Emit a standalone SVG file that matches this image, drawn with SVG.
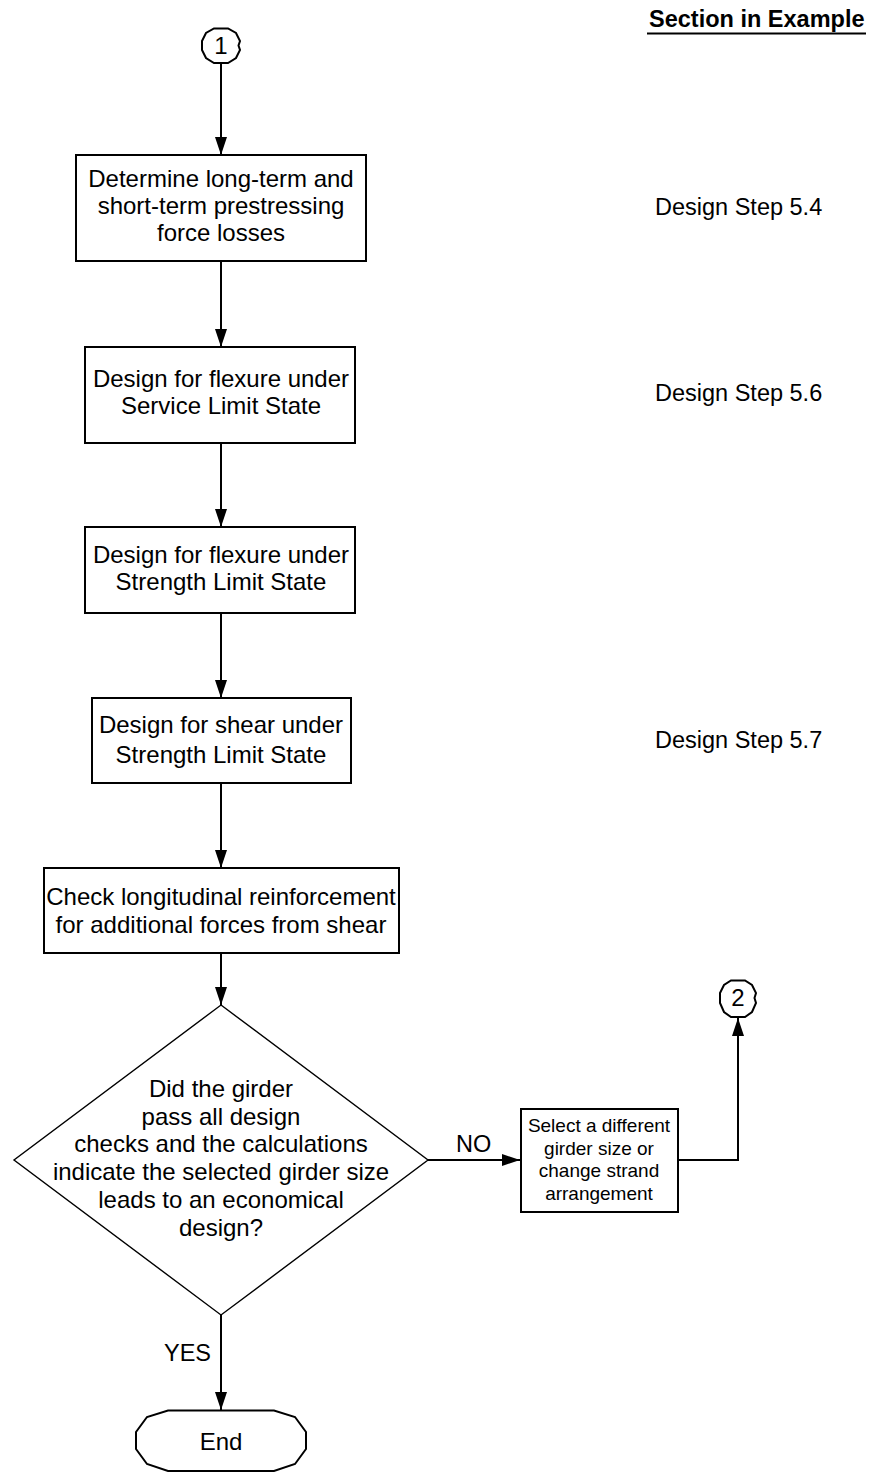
<svg xmlns="http://www.w3.org/2000/svg" width="869" height="1473" viewBox="0 0 869 1473">
<defs>
<marker id="arr" markerUnits="userSpaceOnUse" markerWidth="18" markerHeight="12" refX="18" refY="6" orient="auto">
<path d="M0,0 L18,6 L0,12 Z" fill="#000"/>
</marker>
<style>
text{font-family:"Liberation Sans",Arial,sans-serif;fill:#000}
.t{font-size:24px;text-anchor:middle}
.s{font-size:19px;text-anchor:middle}
.r{font-size:23.5px}
.box{fill:#fff;stroke:#000;stroke-width:2}
.thin{fill:#fff;stroke:#000;stroke-width:1.4}
.c{fill:none;stroke:#000;stroke-width:2;marker-end:url(#arr)}
</style>
</defs>
<rect width="869" height="1473" fill="#fff"/>

<g id="header">
<text x="649" y="27" style="font-size:23.5px;font-weight:bold">Section in Example</text>
<line x1="647" y1="33.5" x2="866" y2="33.5" stroke="#000" stroke-width="2"/>
</g>

<g id="connectors">
<line class="c" x1="221" y1="64" x2="221" y2="155"/>
<line class="c" x1="221" y1="261" x2="221" y2="347"/>
<line class="c" x1="221" y1="443" x2="221" y2="527"/>
<line class="c" x1="221" y1="613" x2="221" y2="698"/>
<line class="c" x1="221" y1="783" x2="221" y2="868"/>
<line class="c" x1="221" y1="953" x2="221" y2="1005"/>
<line class="c" x1="428" y1="1160" x2="520" y2="1160"/>
<polyline class="c" points="678,1160 738,1160 738,1018"/>
<line class="c" x1="221" y1="1315" x2="221" y2="1410"/>
<text class="r" x="456" y="1152">NO</text>
<text class="r" x="164" y="1361">YES</text>
</g>

<g id="start1">
<path class="box" d="M214,28.5 L228,28.5 L236,33 L240,41 L238.5,45.5 L240,50 L236,58 L228,63 L214,63 L206,58 L202,50 L202,41 L206,33 Z"/>
<text class="t" x="221" y="54">1</text>
</g>

<g id="box1">
<rect class="box" x="76" y="155" width="290" height="106"/>
<text class="t" x="221" y="187">Determine long-term and</text>
<text class="t" x="221" y="214">short-term prestressing</text>
<text class="t" x="221" y="241">force losses</text>
</g>

<g id="box2">
<rect class="box" x="85" y="347" width="270" height="96"/>
<text class="t" x="221" y="387">Design for flexure under</text>
<text class="t" x="221" y="414">Service Limit State</text>
</g>

<g id="box3">
<rect class="box" x="85" y="527" width="270" height="86"/>
<text class="t" x="221" y="563">Design for flexure under</text>
<text class="t" x="221" y="590">Strength Limit State</text>
</g>

<g id="box4">
<rect class="box" x="92" y="698" width="259" height="85"/>
<text class="t" x="221" y="733">Design for shear under</text>
<text class="t" x="221" y="763">Strength Limit State</text>
</g>

<g id="box5">
<rect class="box" x="44" y="868" width="355" height="85"/>
<text class="t" x="221" y="905">Check longitudinal reinforcement</text>
<text class="t" x="221" y="933">for additional forces from shear</text>
</g>

<g id="decision">
<polygon class="thin" points="221,1005 428,1160 221,1315 14,1160"/>
<text class="t" x="221" y="1097">Did the girder</text>
<text class="t" x="221" y="1125">pass all design</text>
<text class="t" x="221" y="1152">checks and the calculations</text>
<text class="t" x="221" y="1180">indicate the selected girder size</text>
<text class="t" x="221" y="1208">leads to an economical</text>
<text class="t" x="221" y="1236">design?</text>
</g>

<g id="select">
<rect class="box" x="521" y="1109" width="157" height="103"/>
<text class="s" x="599" y="1132">Select a different</text>
<text class="s" x="599" y="1155">girder size or</text>
<text class="s" x="599" y="1177">change strand</text>
<text class="s" x="599" y="1200">arrangement</text>
</g>

<g id="goto2">
<path class="box" d="M731,980.5 L745,980.5 L752,985 L756,993 L754.5,998 L756,1003 L752,1012 L745,1017 L731,1017 L724,1012 L720,1003 L720,993 L724,985 Z"/>
<text class="t" x="738" y="1006">2</text>
</g>

<g id="end">
<path class="box" d="M168,1410.5 L274,1410.5 L295,1417 L306,1432 L306,1449 L295,1464 L274,1471 L168,1471 L147,1464 L136,1449 L136,1432 L147,1417 Z"/>
<text class="t" x="221" y="1450">End</text>
</g>

<g id="sections">
<text class="r" x="655" y="215">Design Step 5.4</text>
<text class="r" x="655" y="401">Design Step 5.6</text>
<text class="r" x="655" y="748">Design Step 5.7</text>
</g>
</svg>
